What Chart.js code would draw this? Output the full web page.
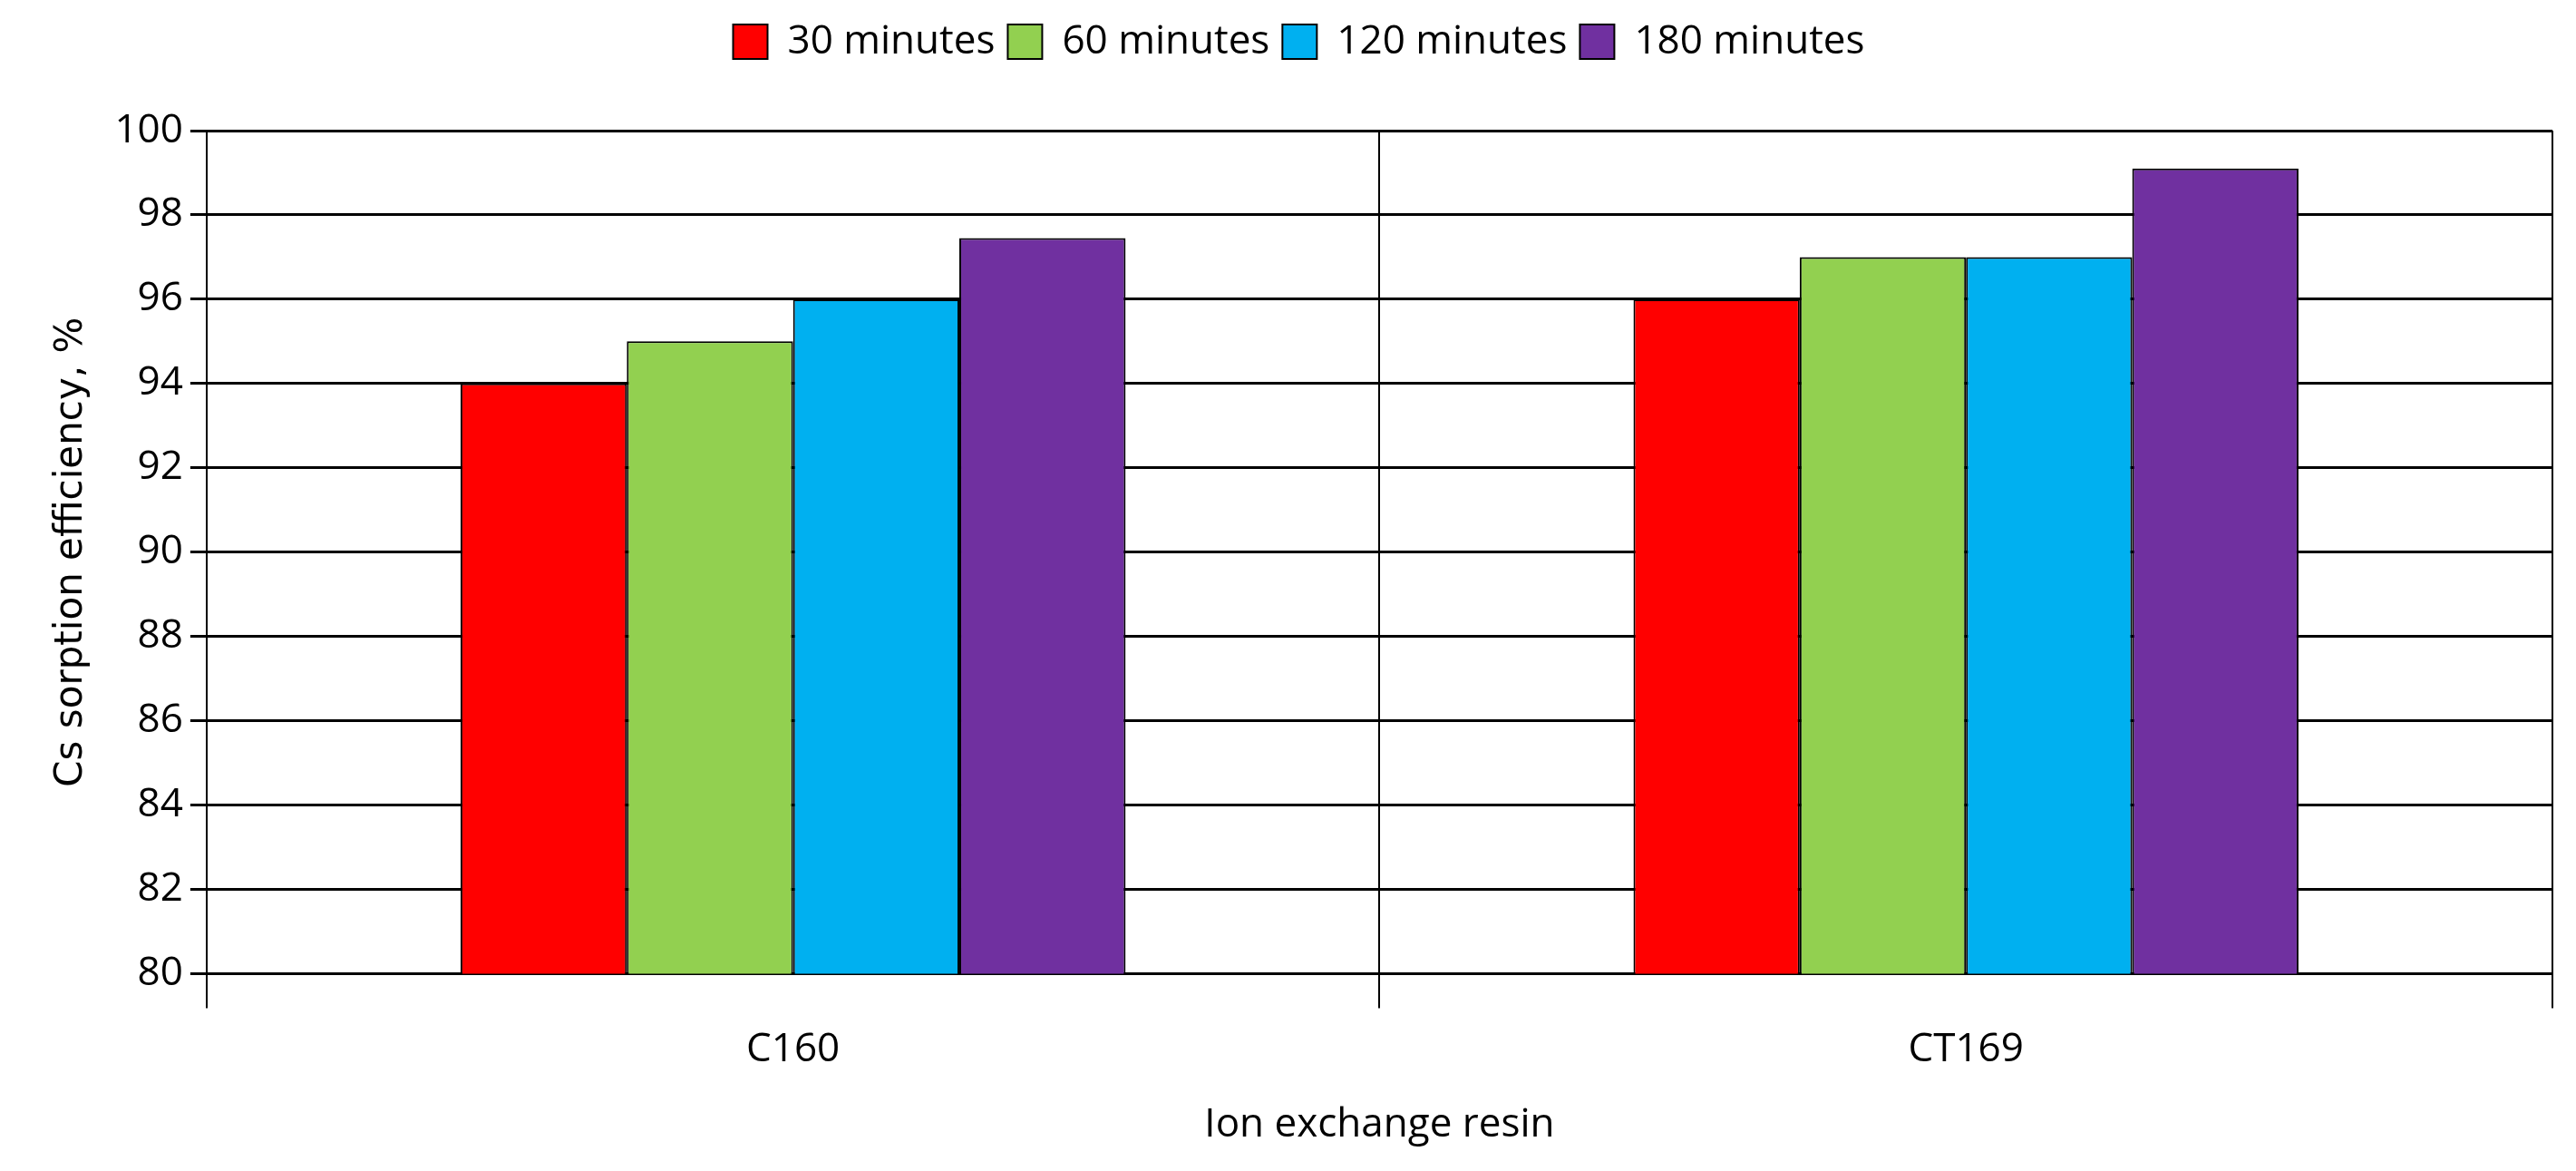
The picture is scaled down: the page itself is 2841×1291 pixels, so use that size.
<!DOCTYPE html>
<html>
<head>
<meta charset="utf-8">
<script src="https://cdn.jsdelivr.net/npm/chart.js@4"></script>
<style>
  html, body { margin: 0; padding: 0; background: #fff; }
</style>
</head>
<body>
<canvas id="myChart" width="2841" height="1291"></canvas>
<script>
const categories = ['C160', 'CT169'];
const seriesNames = ['30 minutes', '60 minutes', '120 minutes', '180 minutes'];
const seriesColors = ['#ff0000', '#92d050', '#00b0f0', '#7030a0'];
const values30 = [94, 96];
const values60 = [95, 97];
const values120 = [96, 97];
const values180 = [97.45, 99.1];
const allValues = [values30, values60, values120, values180];

const tickFont = { family: 'Open Sans', size: 44 };

// extra room under the legend
const legendGap = {
    id: 'legendGap',
    beforeInit(chart) {
        const fit = chart.legend.fit;
        chart.legend.fit = function () {
            fit.bind(chart.legend)();
            this.height += 66;
        };
    }
};

let ctx = document.getElementById('myChart').getContext('2d');
let myChart = new Chart(ctx, {
    type: 'bar',
    data: {
        labels: categories,
        datasets: seriesNames.map((name, i) => ({
            label: name,
            data: allValues[i],
            backgroundColor: seriesColors[i],
            borderColor: '#000',
            borderWidth: 2,
            categoryPercentage: 0.567,
            barPercentage: 1
        }))
    },
    options: {
        responsive: false,
        devicePixelRatio: 1,
        animation: false,
        layout: { padding: { left: 50, right: 26, top: 10, bottom: 20 } },
        plugins: {
            legend: {
                position: 'top',
                labels: {
                    font: tickFont,
                    color: '#000',
                    boxWidth: 38,
                    boxHeight: 38,
                    padding: 14,
                    useBorderRadius: false
                }
            },
            tooltip: { enabled: false }
        },
        scales: {
            x: {
                grid: {
                    offset: true,
                    color: (c) => c.index === 2 ? 'rgba(0,0,0,0)' : '#000',
                    tickColor: '#000',
                    tickLength: 38,
                    lineWidth: 2
                },
                border: { color: '#000', width: 3 },
                ticks: { font: tickFont, color: '#000', padding: 20 },
                title: { display: true, text: 'Ion exchange resin', font: tickFont, color: '#000', padding: { top: 10 } }
            },
            y: {
                min: 80,
                max: 100,
                ticks: { stepSize: 2, font: tickFont, color: '#000', padding: 8 },
                grid: { color: '#000', lineWidth: 3, tickLength: 18 },
                border: { color: '#000', width: 2 },
                title: { display: true, text: 'Cs sorption efficiency, %', font: { family: 'DejaVu Sans', size: 42 }, color: '#000', padding: { bottom: 14 } }
            }
        }
    },
    plugins: [legendGap]
});
</script>
</body>
</html>
